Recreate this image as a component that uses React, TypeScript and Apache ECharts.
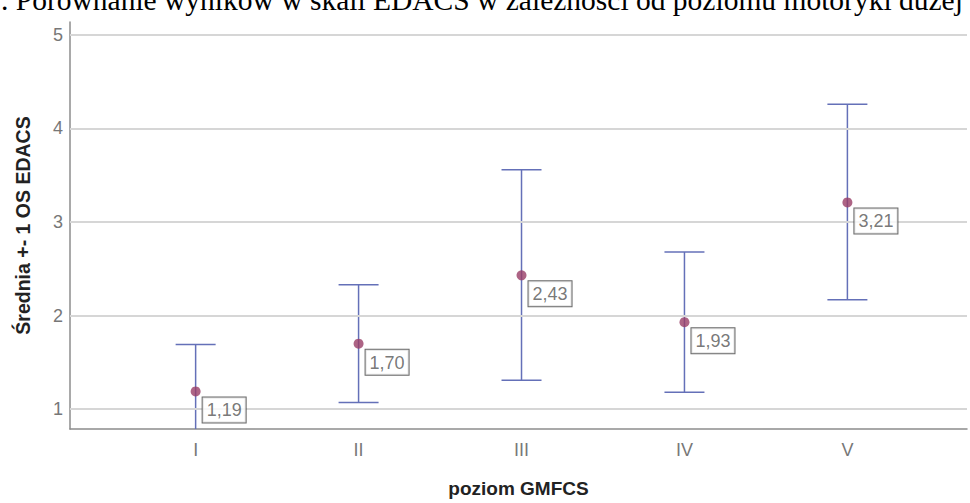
import React, { useEffect, useRef } from "react";
import * as echarts from "echarts";

const categories = ["I", "II", "III", "IV", "V"];
const means = [1.19, 1.7, 2.43, 1.93, 3.21];
const upperBounds = [1.69, 2.33, 3.56, 2.68, 4.26];
const lowerBounds = [0.69, 1.07, 1.31, 1.18, 2.17];
const yTicks = [1, 2, 3, 4, 5];
const titleText = ". Porównanie wyników w skali EDACS w zależności od poziomu motoryki dużej";
const yName = "Średnia +- 1 OS EDACS";
const xName = "poziom GMFCS";

export default function App() {
  const ref = useRef<HTMLDivElement>(null);
  useEffect(() => {
    if (!ref.current) return;
    const chart = echarts.init(ref.current, null, { renderer: "svg" });
    const errData = categories.map((_, i) => [i + 1, lowerBounds[i], upperBounds[i]]);
    const meanData = categories.map((_, i) => [i + 1, means[i]]);
    const sans = "Arial, 'Liberation Sans', sans-serif";
    chart.setOption({
      animation: false,
      backgroundColor: "#ffffff",
      grid: { left: 70, right: 0, top: 22, bottom: 70, containLabel: false },
      graphic: [
        {
          type: "text",
          left: 1,
          top: -15,
          style: {
            text: titleText,
            font: "29.5px 'Liberation Serif', 'Times New Roman', serif",
            fill: "#000",
          },
        },
      ],
      xAxis: {
        type: "value",
        min: 0.229,
        max: 5.734,
        splitLine: { show: false },
        axisTick: { show: false },
        axisLine: { show: true, lineStyle: { color: "#8c8c8c", width: 1.5 } },
        axisLabel: {
          color: "#777",
          fontSize: 18,
          fontFamily: sans,
          margin: 12,
          formatter: (v: number) => {
            const r = Math.round(v);
            return Math.abs(v - r) < 1e-6 && r >= 1 && r <= categories.length ? categories[r - 1] : "";
          },
        },
        name: xName,
        nameLocation: "middle",
        nameGap: 50,
        nameTextStyle: { color: "#222", fontSize: 19, fontWeight: "bold", fontFamily: sans },
      },
      yAxis: {
        type: "value",
        min: 0.788,
        max: 5.138,
        splitLine: { show: false },
        axisTick: { show: false },
        axisLine: { show: true, lineStyle: { color: "#8c8c8c", width: 1.5 } },
        axisLabel: {
          color: "#777",
          fontSize: 18,
          fontFamily: sans,
          margin: 7,
          formatter: (v: number) => {
            const r = Math.round(v);
            return Math.abs(v - r) < 1e-6 ? String(r) : "";
          },
        },
        name: yName,
        nameLocation: "middle",
        nameGap: 37,
        nameTextStyle: { color: "#222", fontSize: 19.5, fontWeight: "bold", fontFamily: sans },
      },
      series: [
        {
          type: "line",
          data: [],
          silent: true,
          markLine: {
            silent: true,
            symbol: "none",
            label: { show: false },
            lineStyle: { color: "#d6d6d6", width: 2, type: "solid" },
            data: yTicks.map((t) => ({ yAxis: t })),
          },
        },
        {
          type: "custom",
          clip: true,
          data: errData,
          renderItem: (params: any, api: any) => {
            const x = api.value(0);
            const lo = api.coord([x, api.value(1)]);
            const hi = api.coord([x, api.value(2)]);
            const half = 20;
            const style = { stroke: "#6470b8", lineWidth: 1.5 };
            return {
              type: "group",
              children: [
                { type: "line", shape: { x1: hi[0], y1: hi[1], x2: lo[0], y2: lo[1] }, style },
                { type: "line", shape: { x1: hi[0] - half, y1: hi[1], x2: hi[0] + half, y2: hi[1] }, style },
                { type: "line", shape: { x1: lo[0] - half, y1: lo[1], x2: lo[0] + half, y2: lo[1] }, style },
              ],
            };
          },
        },
        {
          type: "scatter",
          data: meanData,
          symbol: "circle",
          symbolSize: 10,
          itemStyle: { color: "#993d66" },
          z: 5,
          label: {
            show: true,
            position: [12, 11],
            formatter: (p: any) => p.value[1].toFixed(2).replace(".", ","),
            color: "#555",
            fontSize: 18,
            fontFamily: sans,
            backgroundColor: "#fff",
            borderColor: "#444",
            borderWidth: 1,
            padding: [4, 4, 3, 4],
          },
        },
      ],
    });
    return () => chart.dispose();
  }, []);
  return (
    <div ref={ref} style={{ position: "fixed", left: 0, top: 0, width: 970, height: 503 }} />
  );
}
